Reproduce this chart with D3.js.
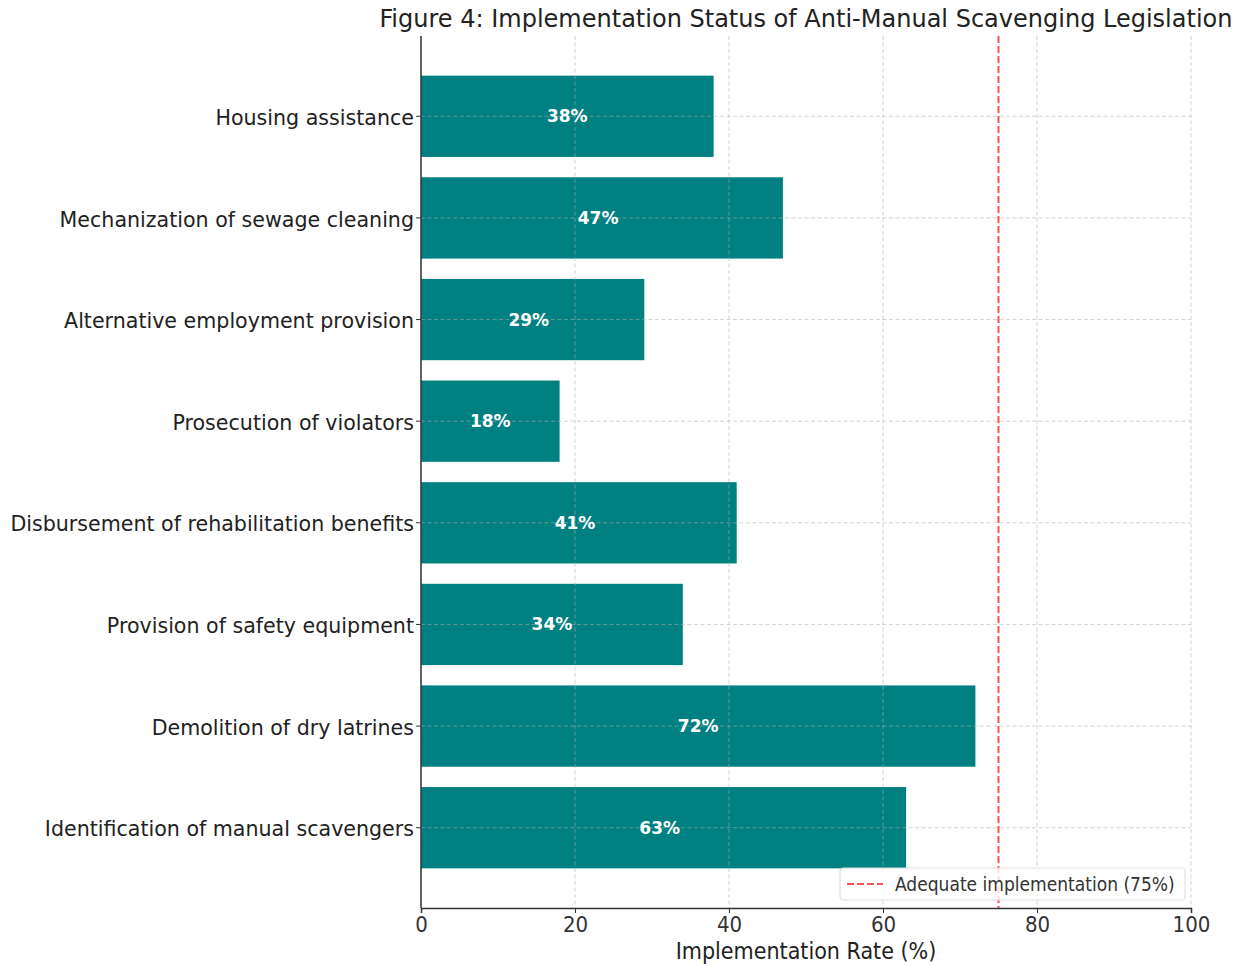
<!DOCTYPE html>
<html>
<head>
<meta charset="utf-8">
<script src="https://cdn.jsdelivr.net/npm/d3@7"></script>
<style>
  body { margin: 0; background: #fff; }
  text { font-family: "DejaVu Sans", sans-serif; }
  .cond { font-family: "DejaVu Sans Condensed", "DejaVu Sans", sans-serif; }
</style>
</head>
<body>
<div id="chart"></div>
<script>
// categories top to bottom
const categories = [
    'Housing assistance',
    'Mechanization of sewage cleaning',
    'Alternative employment provision',
    'Prosecution of violators',
    'Disbursement of rehabilitation benefits',
    'Provision of safety equipment',
    'Demolition of dry latrines',
    'Identification of manual scavengers'
];
const rates = [38, 47, 29, 18, 41, 34, 72, 63];
const xTicks = [0, 20, 40, 60, 80, 100];
const threshold = 75;
const titleText = 'Figure 4: Implementation Status of Anti-Manual Scavenging Legislation';
const xLabel = 'Implementation Rate (%)';
const legendText = 'Adequate implementation (75%)';

const W = 1241, H = 966;
const m = { left: 421, right: 1191, top: 36, bottom: 908 };

const svg = d3.select('#chart').append('svg')
    .attr('width', W)
    .attr('height', H);

let x = d3.scaleLinear().domain([0, 100]).range([m.left, m.right]);
let y = d3.scaleBand()
    .domain(categories)
    .range([m.top, m.bottom])
    .paddingInner(0.2)
    .paddingOuter(0.39);

let data = categories.map((c, i) => ({ name: c, value: rates[i] }));

// bars
svg.append('g')
    .selectAll('rect')
    .data(data)
    .enter()
    .append('rect')
    .attr('x', x(0))
    .attr('y', d => y(d.name))
    .attr('width', d => x(d.value) - x(0))
    .attr('height', y.bandwidth())
    .attr('fill', '#008080');

// grid over bars
let grid = svg.append('g')
    .attr('stroke', '#b0b0b0')
    .attr('stroke-opacity', 0.7)
    .attr('stroke-width', 0.8)
    .attr('stroke-dasharray', '4,2.5');
grid.selectAll('.gx')
    .data(xTicks)
    .enter()
    .append('line')
    .attr('x1', d => x(d)).attr('x2', d => x(d))
    .attr('y1', m.top).attr('y2', m.bottom);
grid.selectAll('.gy')
    .data(categories)
    .enter()
    .append('line')
    .attr('x1', m.left).attr('x2', m.right)
    .attr('y1', d => y(d) + y.bandwidth() / 2)
    .attr('y2', d => y(d) + y.bandwidth() / 2);

// value labels (placed at integer half of the value)
svg.append('g')
    .selectAll('text')
    .data(data)
    .enter()
    .append('text')
    .attr('x', d => x(Math.floor(d.value / 2)))
    .attr('y', d => y(d.name) + y.bandwidth() / 2)
    .attr('dy', '0.35em')
    .attr('text-anchor', 'middle')
    .attr('fill', '#fff')
    .attr('font-weight', 'bold')
    .attr('font-size', 17)
    .text(d => d.value + '%');

// threshold line
svg.append('line')
    .attr('x1', x(threshold)).attr('x2', x(threshold))
    .attr('y1', m.top).attr('y2', m.bottom)
    .attr('stroke', '#ff3333')
    .attr('stroke-opacity', 0.85)
    .attr('stroke-width', 2)
    .attr('stroke-dasharray', '7,3');

// x axis
let xAxis = svg.append('g')
    .attr('transform', 'translate(0,' + m.bottom + ')')
    .call(d3.axisBottom(x).tickValues(xTicks).tickSize(5).tickPadding(3));
xAxis.select('.domain').attr('stroke', '#333').attr('stroke-width', 1.5);
xAxis.selectAll('.tick line').attr('stroke', '#333');
xAxis.selectAll('.tick text')
    .attr('class', 'cond')
    .attr('font-size', 22)
    .attr('fill', '#333');

// y axis
let yAxis = svg.append('g')
    .attr('transform', 'translate(' + m.left + ',0)')
    .call(d3.axisLeft(y).tickSize(5).tickPadding(2));
yAxis.select('.domain').attr('d', 'M0,' + m.top + 'V' + m.bottom)
    .attr('stroke', '#333').attr('stroke-width', 1.5);
yAxis.selectAll('.tick line').attr('stroke', '#333');
yAxis.selectAll('.tick text')
    .attr('font-size', 20.6)
    .attr('dy', '0.42em')
    .attr('fill', '#222');

// axis label
svg.append('text')
    .attr('class', 'cond')
    .attr('x', (m.left + m.right) / 2)
    .attr('y', 959)
    .attr('text-anchor', 'middle')
    .attr('font-size', 23)
    .attr('fill', '#222')
    .text(xLabel);

// title
svg.append('text')
    .attr('class', 'cond')
    .attr('x', 806)
    .attr('y', 27)
    .attr('text-anchor', 'middle')
    .attr('font-size', 25)
    .attr('fill', '#222')
    .attr('textLength', 853)
    .attr('lengthAdjust', 'spacingAndGlyphs')
    .text(titleText);

// legend
let lg = svg.append('g').attr('transform', 'translate(840,868)');
lg.append('rect')
    .attr('width', 345).attr('height', 32)
    .attr('rx', 3)
    .attr('fill', '#fff').attr('fill-opacity', 0.8)
    .attr('stroke', '#ddd');
lg.append('line')
    .attr('x1', 7).attr('x2', 43)
    .attr('y1', 16).attr('y2', 16)
    .attr('stroke', '#ff3333').attr('stroke-opacity', 0.85)
    .attr('stroke-width', 2)
    .attr('stroke-dasharray', '7,3');
lg.append('text')
    .attr('class', 'cond')
    .attr('x', 55).attr('y', 16)
    .attr('dy', '0.35em')
    .attr('font-size', 19)
    .attr('fill', '#333')
    .text(legendText);
</script>
</body>
</html>
